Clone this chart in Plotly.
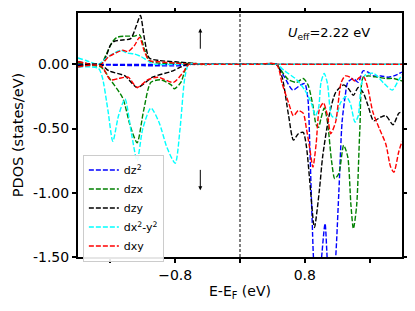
import plotly.graph_objects as go

# ---------------- data ----------------
labels = ["dz<sup>2</sup>", "dzx", "dzy", "dx<sup>2</sup>-y<sup>2</sup>", "dxy"]
colors = ["blue", "green", "black", "cyan", "red"]

# spin-up
dz2_up_E = [-2.0, -1.72, -1.2, -0.6, -0.3, 0.0, 0.3, 0.45, 1.0, 1.5, 2.0]
dz2_up_V = [0.0, 0.0, 0.0, 0.0, 0.0, 0.0, 0.0, 0.0, 0.0, 0.0, 0.0]

dzx_up_E = [-2.0, -1.72, -1.65, -1.58, -1.52, -1.42, -1.3, -1.24, -1.18, -1.12, -1.0, -0.7, -0.5, -0.3, 0.0, 0.3,
            0.45, 1.0, 1.5, 2.0]
dzx_up_V = [0.01, 0.0, 0.08, 0.17, 0.21, 0.22, 0.22, 0.23, 0.12, 0.03, 0.01, 0.01, 0.0, 0.0, 0.0, 0.0,
            0.0, 0.0, 0.0, 0.0]

dzy_up_E = [-2.0, -1.72, -1.66, -1.6, -1.55, -1.45, -1.35, -1.28, -1.23, -1.18, -1.12, -1.0, -0.8, -0.6, -0.45,
            -0.3, 0.0, 0.3, 0.45, 1.0, 1.5, 2.0]
dzy_up_V = [0.02, 0.0, 0.05, 0.15, 0.18, 0.19, 0.2, 0.3, 0.38, 0.2, 0.05, 0.03, 0.02, 0.01, 0.0,
            0.0, 0.0, 0.0, 0.0, 0.0, 0.0, 0.0]

dx2y2_up_E = [-2.0, -1.9, -1.75, -1.65, -1.55, -1.47, -1.4, -1.3, -1.22, -1.12, -1.05, -0.8, -0.5, -0.2, 0.1,
              0.45, 1.0, 1.5, 2.0]
dx2y2_up_V = [0.05, 0.03, 0.0, 0.05, 0.09, 0.11, 0.09, 0.08, 0.06, 0.02, 0.0, 0.0, 0.0, 0.0, 0.0,
              0.0, 0.0, 0.0, 0.0]

dxy_up_E = [-2.0, -1.72, -1.62, -1.53, -1.45, -1.38, -1.3, -1.24, -1.18, -1.12, -1.0, -0.8, -0.6, -0.4, -0.1,
            0.2, 0.45, 1.0, 1.5, 2.0]
dxy_up_V = [0.02, 0.0, 0.06, 0.09, 0.11, 0.1, 0.15, 0.21, 0.1, 0.03, 0.02, 0.01, 0.0, 0.0, 0.0,
            0.0, 0.0, 0.0, 0.0, 0.0]

# spin-down
dz2_dn_E = [-2.0, -1.72, -1.2, -0.7, -0.6, -0.3, 0.0, 0.3, 0.45, 0.55, 0.65, 0.75, 0.8, 0.84, 0.86, 0.89, 0.92,
            0.97, 1.0, 1.05, 1.08, 1.12, 1.17, 1.22, 1.26, 1.3, 1.33, 1.4, 1.46, 1.52, 1.58, 1.65, 1.74, 1.83, 1.9, 2.0]
dz2_dn_V = [-0.005, -0.005, -0.01, -0.01, 0.0, 0.0, 0.0, 0.0, 0.0, -0.1, -0.2, -0.16, -0.15, -0.28, -0.6, -1.2, -1.6,
            -1.7, -1.55, -1.24, -1.55, -1.8, -1.6, -1.0, -0.45, -0.24, -0.14, -0.11, -0.14, -0.05, -0.06, -0.09, -0.09,
            -0.1, -0.09, -0.06]

dzx_dn_E = [-2.0, -1.72, -1.6, -1.45, -1.35, -1.27, -1.19, -1.1, -0.98, -0.85, -0.81, -0.73, -0.64, -0.4, -0.1,
            0.2, 0.45, 0.5, 0.6, 0.7, 0.78, 0.84, 0.9, 0.94, 0.97, 1.0, 1.04, 1.08, 1.13, 1.17, 1.22, 1.28, 1.33,
            1.37, 1.4, 1.44, 1.48, 1.52, 1.58, 1.7, 1.8, 1.9, 2.0]
dzx_dn_V = [-0.01, -0.02, -0.12, -0.26, -0.49, -0.61, -0.36, -0.14, -0.12, -0.16, -0.19, -0.14, 0.0, 0.0, 0.0,
            0.0, 0.0, -0.04, -0.12, -0.14, -0.11, -0.16, -0.32, -0.47, -0.49, -0.42, -0.34, -0.45, -0.75, -0.89,
            -0.85, -0.63, -0.72, -1.1, -1.28, -1.1, -0.5, -0.1, -0.09, -0.1, -0.11, -0.11, -0.13]

dzy_dn_E = [-2.0, -1.72, -1.62, -1.42, -1.27, -1.08, -0.85, -0.73, -0.66, -0.4, -0.1, 0.2, 0.45, 0.52, 0.6, 0.66,
            0.72, 0.78, 0.82, 0.86, 0.91, 0.92, 0.98, 1.02, 1.1, 1.18, 1.28, 1.34, 1.4, 1.46, 1.52, 1.58, 1.65,
            1.74, 1.8, 1.89, 1.96, 2.0]
dzy_dn_V = [-0.01, 0.0, -0.05, -0.09, -0.18, -0.1, -0.055, -0.02, 0.0, 0.0, 0.0, 0.0, 0.0, -0.1, -0.4, -0.59,
            -0.54, -0.53, -0.64, -0.9, -1.25, -1.27, -0.98, -0.72, -0.4, -0.22, -0.16, -0.19, -0.24, -0.18, -0.22,
            -0.32, -0.44, -0.41, -0.4, -0.47, -0.38, -0.37]

dx2y2_dn_E = [-2.0, -1.75, -1.7, -1.63, -1.57, -1.5, -1.42, -1.34, -1.27, -1.2, -1.1, -1.0, -0.9, -0.8, -0.74,
              -0.68, -0.63, -0.4, -0.1, 0.2, 0.45, 0.55, 0.7, 0.8, 0.88, 0.93, 0.97, 1.0, 1.04, 1.08, 1.13, 1.18,
              1.24, 1.31, 1.36, 1.42, 1.46, 1.5, 1.55, 1.65, 1.78, 1.88, 1.96, 2.0]
dx2y2_dn_V = [-0.02, -0.03, -0.1, -0.36, -0.6, -0.4, -0.27, -0.54, -0.75, -0.5, -0.34, -0.45, -0.65, -0.77, -0.5,
              -0.1, 0.0, 0.0, 0.0, 0.0, 0.0, -0.05, -0.12, -0.2, -0.3, -0.4, -0.34, -0.14, -0.07, -0.15, -0.4,
              -0.42, -0.3, -0.25, -0.3, -0.45, -0.4, -0.15, -0.08, -0.07, -0.15, -0.2, -0.12, -0.08]

dxy_dn_E = [-2.0, -1.72, -1.6, -1.5, -1.38, -1.27, -1.14, -1.01, -0.82, -0.7, -0.63, -0.4, -0.1, 0.2, 0.45, 0.52,
            0.6, 0.66, 0.72, 0.78, 0.82, 0.86, 0.9, 0.94, 0.98, 1.03, 1.08, 1.12, 1.18, 1.25, 1.3, 1.36, 1.42, 1.48,
            1.53, 1.58, 1.64, 1.72, 1.8, 1.86, 1.9, 1.96, 2.0]
dxy_dn_V = [-0.02, -0.01, -0.12, -0.11, -0.1, -0.18, -0.12, -0.1, -0.14, -0.06, 0.0, 0.0, 0.0, 0.0, 0.0, -0.15,
            -0.3, -0.4, -0.36, -0.38, -0.5, -0.65, -0.8, -0.62, -0.35, -0.3, -0.4, -0.54, -0.45, -0.14, -0.09,
            -0.1, -0.13, -0.1, -0.1, -0.19, -0.37, -0.5, -0.62, -0.8, -0.84, -0.68, -0.6]

up_E = [dz2_up_E, dzx_up_E, dzy_up_E, dx2y2_up_E, dxy_up_E]
up_V = [dz2_up_V, dzx_up_V, dzy_up_V, dx2y2_up_V, dxy_up_V]
dn_E = [dz2_dn_E, dzx_dn_E, dzy_dn_E, dx2y2_dn_E, dxy_dn_E]
dn_V = [dz2_dn_V, dzx_dn_V, dzy_dn_V, dx2y2_dn_V, dxy_dn_V]

x_label_ticks = [-0.8, 0.8]
x_ticktext = ["\u22120.8", "0.8"]
x_tick_step = 0.8
y_ticks = [0.0, -0.5, -1.0, -1.5]
y_ticktext = ["0.00", "-0.50", "-1.00", "-1.50"]

# ---------------- figure ----------------
FONT = "DejaVu Sans"
fig = go.Figure()
for i in range(5):
    fig.add_trace(go.Scatter(x=up_E[i], y=up_V[i], mode="lines", name=labels[i],
                             legendgroup=labels[i], showlegend=True,
                             line=dict(color=colors[i], width=1.4, dash="5px,2px", shape="spline", smoothing=0.7)))
for i in range(5):
    fig.add_trace(go.Scatter(x=dn_E[i], y=dn_V[i], mode="lines", name=labels[i],
                             legendgroup=labels[i], showlegend=False,
                             line=dict(color=colors[i], width=1.4, dash="5px,2px", shape="spline", smoothing=0.7)))

fig.add_shape(type="line", xref="x", yref="paper", x0=0, x1=0, y0=0, y1=1,
              line=dict(color="black", width=1, dash="3px,2px"))

fig.add_annotation(x=-0.49, y=0.28, ax=-0.49, ay=0.11, xref="x", yref="y", axref="x", ayref="y",
                   showarrow=True, arrowhead=2, arrowsize=0.8, arrowwidth=1, arrowcolor="black", text="")
fig.add_annotation(x=-0.49, y=-0.98, ax=-0.49, ay=-0.81, xref="x", yref="y", axref="x", ayref="y",
                   showarrow=True, arrowhead=2, arrowsize=0.8, arrowwidth=1, arrowcolor="black", text="")
fig.add_annotation(x=1.10, y=0.24, xref="x", yref="y", showarrow=False,
                   text="<i>U</i><sub>eff</sub>=2.22 eV", font=dict(family=FONT, size=13, color="black"))

axis_common = dict(showline=True, linewidth=2, linecolor="black", mirror="ticks", ticks="outside",
                   ticklen=4, tickwidth=1.5, tickcolor="black", showgrid=False, zeroline=False,
                   automargin=False, tickfont=dict(family=FONT, size=14, color="black"))

fig.update_xaxes(range=[-2.0, 2.0], tickvals=x_label_ticks, ticktext=x_ticktext,
                 minor=dict(tick0=0, dtick=x_tick_step, ticks="outside", ticklen=4, tickwidth=1.5,
                            tickcolor="black", showgrid=False),
                 title=dict(text="E-E<sub>F</sub> (eV)", font=dict(family=FONT, size=14, color="black"), standoff=4),
                 **axis_common)
fig.update_yaxes(range=[-1.5, 0.4], tickvals=y_ticks, ticktext=y_ticktext,
                 title=dict(text="PDOS (states/eV)", font=dict(family=FONT, size=14.5, color="black"), standoff=6),
                 **axis_common)

# page body has an 8px default margin; figure is sized so the plot area lands where the reference has it
fig.update_layout(
    width=407, height=303,
    margin=dict(l=70, r=13, t=5, b=54),
    paper_bgcolor="white", plot_bgcolor="white",
    font=dict(family=FONT, color="black"),
    legend=dict(x=0.015, y=0.42, xanchor="left", yanchor="top",
                bgcolor="rgba(255,255,255,0.9)", bordercolor="#cccccc", borderwidth=1,
                font=dict(family=FONT, size=11, color="black"), itemwidth=30, tracegroupgap=0),
)

fig.write_html("out.html")
